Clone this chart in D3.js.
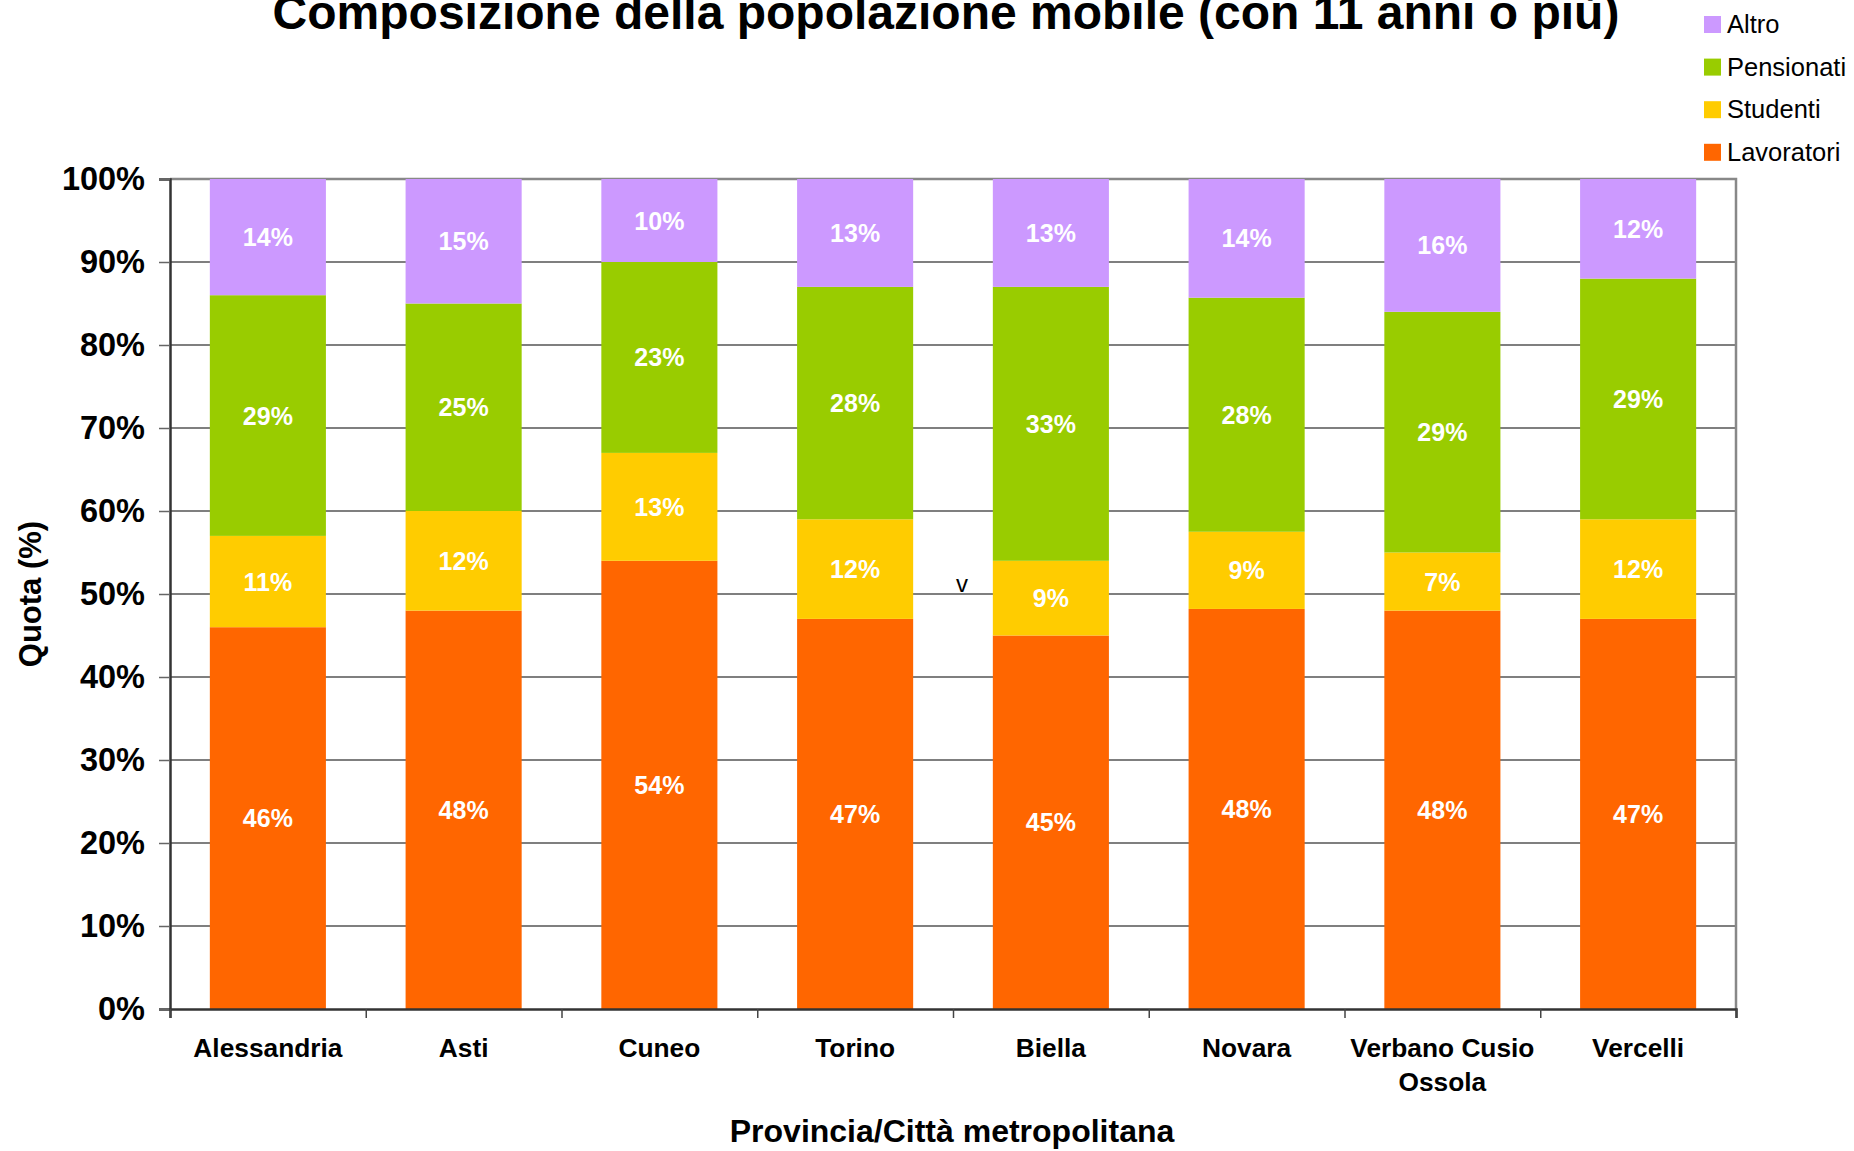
<!DOCTYPE html>
<html>
<head>
<meta charset="utf-8">
<script src="https://cdn.jsdelivr.net/npm/d3@7"></script>
<style>
    body { margin: 0; background: #fff; }
    svg { font-family: "Liberation Sans", Arial, sans-serif; }
</style>
</head>
<body>
<svg id="chart" width="1854" height="1151"></svg>
<script>
// Data
var province = ["Alessandria", "Asti", "Cuneo", "Torino", "Biella", "Novara", "Verbano Cusio Ossola", "Vercelli"];
var lavoratori = [46, 48, 54, 47, 45, 48.2, 48, 47];
var studenti = [11, 12, 13, 12, 9, 9.3, 7, 12];
var pensionati = [29, 25, 23, 28, 33, 28.2, 29, 29];
var altro = [14, 15, 10, 13, 13, 14.3, 16, 12];
var serie = ["Lavoratori", "Studenti", "Pensionati", "Altro"];
var colori = ["#FF6600", "#FFCC00", "#99CC00", "#CC99FF"];
var yTicks = [0, 10, 20, 30, 40, 50, 60, 70, 80, 90, 100];

var svg = d3.select("#chart"),
    plotLeft = 170, plotRight = 1736, plotTop = 179, plotBottom = 1009;

// Scales
var x = d3.scaleBand().domain(province).range([plotLeft, plotRight]).paddingInner(0.407).paddingOuter(0.2035);
var xEdge = d3.scaleLinear().domain([0, province.length]).range([plotLeft, plotRight]);
var y = d3.scaleLinear().domain([0, 100]).range([plotBottom, plotTop]);
var color = d3.scaleOrdinal().domain(serie).range(colori);

// Build stacked table
var table = province.map(function (p, i) {
    return { "provincia": p, "Lavoratori": lavoratori[i], "Studenti": studenti[i], "Pensionati": pensionati[i], "Altro": altro[i] };
});
var stacked = d3.stack().keys(serie)(table);

// Title
svg.append("text")
    .attr("x", 946)
    .attr("y", 29)
    .attr("text-anchor", "middle")
    .attr("font-size", 48)
    .attr("font-weight", "bold")
    .text("Composizione della popolazione mobile (con 11 anni o più)");

// Gridlines
svg.append("g")
    .selectAll("line")
    .data(yTicks.filter(function (d) { return d > 0 && d < 100; }))
    .enter()
    .append("line")
    .attr("x1", plotLeft)
    .attr("x2", plotRight)
    .attr("y1", function (d) { return y(d); })
    .attr("y2", function (d) { return y(d); })
    .attr("stroke", "#555")
    .attr("stroke-width", 1.3);

// Frame top and right
svg.append("path")
    .attr("d", "M" + plotLeft + "," + y(100) + "H" + plotRight + "V" + plotBottom)
    .attr("fill", "none")
    .attr("stroke", "#888")
    .attr("stroke-width", 2.5);

// Bars
var layer = svg.append("g")
    .selectAll("g")
    .data(stacked)
    .enter()
    .append("g")
    .attr("fill", function (d) { return color(d.key); });

layer.selectAll("rect")
    .data(function (d) { return d; })
    .enter()
    .append("rect")
    .attr("x", function (d) { return x(d.data.provincia); })
    .attr("y", function (d) { return y(d[1]); })
    .attr("width", x.bandwidth())
    .attr("height", function (d) { return y(d[0]) - y(d[1]); });

// Value labels
layer.selectAll("text")
    .data(function (d) { return d; })
    .enter()
    .append("text")
    .attr("x", function (d) { return x(d.data.provincia) + x.bandwidth() / 2; })
    .attr("y", function (d) { return y((d[0] + d[1]) / 2); })
    .attr("dy", "0.36em")
    .attr("text-anchor", "middle")
    .attr("fill", "#fff")
    .attr("font-size", 25)
    .attr("font-weight", "bold")
    .text(function (d) { return Math.round(d[1] - d[0]) + "%"; });

// Y axis
var yAxis = svg.append("g")
    .attr("transform", "translate(" + plotLeft + ",0)")
    .call(d3.axisLeft(y).tickValues(yTicks).tickSize(11).tickPadding(14).tickFormat(function (d) { return d + "%"; }));
yAxis.select(".domain").attr("stroke", "#333").attr("stroke-width", 2.5);
yAxis.selectAll(".tick line").attr("stroke", "#666").attr("stroke-width", 1.5);
yAxis.selectAll("text")
    .attr("font-family", "Liberation Sans, Arial, sans-serif")
    .attr("font-size", 32.5)
    .attr("font-weight", "bold")
    .attr("fill", "#000");

// X axis (ticks on band edges)
var xAxis = svg.append("g")
    .attr("transform", "translate(0," + plotBottom + ")")
    .call(d3.axisBottom(xEdge).tickValues(d3.range(0, province.length + 1)).tickSize(9).tickFormat(""));
xAxis.select(".domain").attr("stroke", "#333").attr("stroke-width", 2.5);
xAxis.selectAll(".tick line").attr("stroke", "#444").attr("stroke-width", 1.5);

// Category labels
var catLabels = [["Alessandria"], ["Asti"], ["Cuneo"], ["Torino"], ["Biella"], ["Novara"], ["Verbano Cusio", "Ossola"], ["Vercelli"]];
svg.append("g")
    .selectAll("text")
    .data(province)
    .enter()
    .append("text")
    .attr("x", function (d) { return x(d) + x.bandwidth() / 2; })
    .attr("y", 1057)
    .attr("text-anchor", "middle")
    .attr("font-size", 26.3)
    .attr("font-weight", "bold")
    .each(function (d, i) {
        var t = d3.select(this);
        catLabels[i].forEach(function (line, j) {
            t.append("tspan")
                .attr("x", x(d) + x.bandwidth() / 2)
                .attr("dy", j === 0 ? 0 : 34)
                .text(line);
        });
    });

// Axis titles
svg.append("text")
    .attr("x", 952)
    .attr("y", 1142)
    .attr("text-anchor", "middle")
    .attr("font-size", 32)
    .attr("font-weight", "bold")
    .text("Provincia/Città metropolitana");

svg.append("text")
    .attr("transform", "translate(41," + ((plotTop + plotBottom) / 2) + ") rotate(-90)")
    .attr("text-anchor", "middle")
    .attr("font-size", 31)
    .attr("font-weight", "bold")
    .text("Quota (%)");

// Stray mark near Biella
svg.append("text")
    .attr("x", 962)
    .attr("y", 592)
    .attr("text-anchor", "middle")
    .attr("font-size", 24)
    .text("v");

// Legend (top to bottom: Altro ... Lavoratori)
var legend = svg.append("g")
    .selectAll("g")
    .data(serie.slice().reverse())
    .enter()
    .append("g")
    .attr("transform", function (d, i) { return "translate(1704," + (16 + i * 42.6) + ")"; });

legend.append("rect")
    .attr("width", 17)
    .attr("height", 17)
    .attr("fill", function (d) { return color(d); });

legend.append("text")
    .attr("x", 23)
    .attr("y", 17)
    .attr("font-size", 25.5)
    .text(function (d) { return d; });
</script>
</body>
</html>
